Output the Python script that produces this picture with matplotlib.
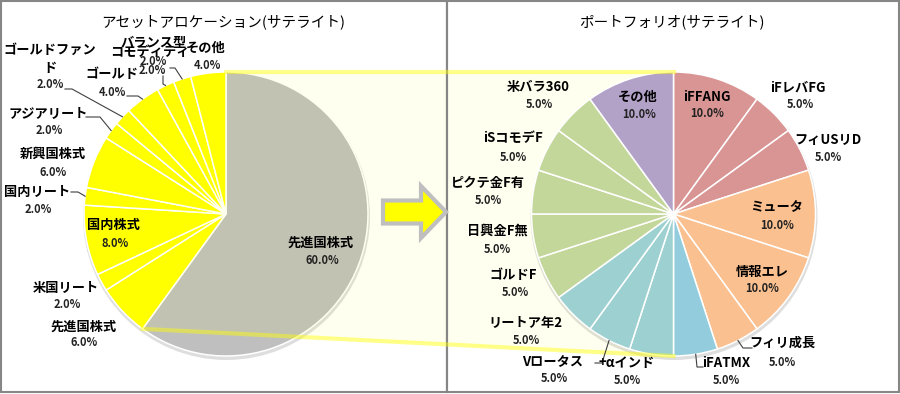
import numpy as np
import matplotlib.pyplot as plt
from matplotlib.patches import Polygon, FancyArrow, Rectangle, Circle

plt.rcParams['font.family'] = ['Noto Sans CJK JP', 'DejaVu Sans']

# 左: アセットアロケーション(サテライト)
alloc_labels = ['先進国株式', '先進国株式', '米国リート', '国内株式', '国内リート', '新興国株式',
                'アジアリート', 'ゴールドファン\nド', 'ゴールド', 'コモディティ', 'バランス型', 'その他']
alloc_values = [60, 6, 2, 8, 2, 6, 2, 2, 4, 2, 2, 4]
alloc_colors = ['#BFBFBF'] + ['#FFFF00'] * 11

# 右: ポートフォリオ(サテライト)
pf_labels = ['iFFANG', 'iFレバFG', 'フィUSリD', 'ミュータ', '情報エレ', 'フィリ成長', 'iFATMX',
             '+αインド', 'Vロータス', 'リートア年2', 'ゴルドF', '日興金F無', 'ピクテ金F有',
             'iSコモデF', '米バラ360', 'その他']
pf_values = [10, 5, 5, 10, 10, 5, 5, 5, 5, 5, 5, 5, 5, 5, 5, 10]
rose, orange, blue, teal, green, purple = '#D99594', '#FAC090', '#93CDDD', '#9DD0D0', '#C4D79B', '#B3A2C7'
pf_colors = [rose] * 3 + [orange] * 3 + [blue] + [teal] * 3 + [green] * 5 + [purple]

# ラベル位置 (名前, パーセント) ピクセル座標
alloc_pos = [((321, 243), (322, 261)), ((84, 327), (84, 343)), ((66, 288), (67, 305)),
             ((113, 225), (115, 243)), ((37, 192), (38, 209)), ((53, 154), (53, 172)),
             ((48, 113), (49, 130)), ((50, 59), (50, 84)), ((112, 74), (112, 92)),
             ((150, 52), (152, 70)), ((154, 43), (153, 61)), ((206, 48), (207, 65))]
alloc_lead = {4: [(78, 192), (71, 192)], 6: [(100, 117), (86, 117)], 7: [(72, 89), (65, 89)],
              8: [(138, 96), (127, 96)], 9: [(163, 84), (163, 76)], 10: [(175, 68), (170, 68)]}

pf_pos = [((707, 97), (707, 113)), ((798, 87), (800, 104)), ((828, 140), (828, 157)),
          ((777, 207), (777, 225)), ((762, 272), (762, 289)), ((782, 343), (782, 362)),
          ((726, 363), (726, 380)), ((627, 363), (627, 381)), ((553, 362), (554, 378)),
          ((525, 323), (526, 341)), ((513, 275), (515, 292)), ((497, 232), (497, 249)),
          ((488, 183), (488, 200)), ((513, 138), (513, 157)), ((538, 87), (539, 104)),
          ((638, 97), (639, 114))]
pf_lead = {5: [(743, 348), (752, 348)], 6: [(697, 367), (703, 367)], 8: [(602, 363), (595, 363)]}

c1, c2, r = (226, 214), (673.5, 214), 142

fig = plt.figure(figsize=(9, 3.94), dpi=100)
ax = fig.add_axes([0, 0, 1, 1])

# 枠
for x0, x1 in [(1, 447), (447, 898.5)]:
    ax.add_patch(Rectangle((x0, 1), x1 - x0, 391, fc='white', ec='#868686', lw=1.5, zorder=0))

# 影
for c in (c1, c2):
    ax.add_patch(Circle((c[0] + 0.5, c[1] + 2.5), r + 1.5, color='black', alpha=0.13, lw=0, zorder=1))


def draw_pie(center, values, colors, labels, pos, lead, z):
    wedges, _ = ax.pie(values, colors=colors, startangle=-90, counterclock=True,
                       center=center, radius=r,
                       wedgeprops=dict(edgecolor='white', linewidth=1.1))
    for w in wedges:
        w.set_zorder(z)
    total = sum(values)
    for i, (w, lab, v) in enumerate(zip(wedges, labels, values)):
        (nx, ny), (px, py) = pos[i]
        ax.text(nx, ny, lab, ha='center', va='center', fontsize=9.5, fontweight='bold',
                linespacing=1.4, zorder=10)
        ax.text(px, py, f'{v / total * 100:.1f}%', ha='center', va='center', fontsize=8,
                fontweight='bold', color='#222222', zorder=10)
        if i in lead:
            a = np.deg2rad((w.theta1 + w.theta2) / 2)
            pts = [(center[0] + r * np.cos(a), center[1] + r * np.sin(a))] + lead[i]
            xs, ys = zip(*pts)
            ax.plot(xs, ys, color='#404040', lw=0.8, zorder=9)
    return wedges


w1 = draw_pie(c1, alloc_values, alloc_colors, alloc_labels, alloc_pos, alloc_lead, 2)

# 拡大範囲
a_end = np.deg2rad(w1[0].theta2)
p_low = (c1[0] + r * np.cos(a_end), c1[1] + r * np.sin(a_end))
zoom = [(c1[0], c1[1] - r), (c2[0], c2[1] - r), (c2[0], c2[1] + r), p_low]
ax.add_patch(Polygon(zoom, closed=True, fc='#FFFF00', alpha=0.06, lw=0, zorder=3))

draw_pie(c2, pf_values, pf_colors, pf_labels, pf_pos, pf_lead, 4)

ax.plot([zoom[0][0], zoom[1][0]], [zoom[0][1], zoom[1][1]], color='#FFFF00', alpha=0.45, lw=3, zorder=6)
ax.plot([zoom[3][0], zoom[2][0]], [zoom[3][1], zoom[2][1]], color='#FFFF00', alpha=0.45, lw=3, zorder=6)
ax.plot([447, 447], [1, 392], color='#868686', lw=1.5, zorder=5)

ax.add_patch(FancyArrow(383, 212, 63, 0, width=23, head_width=52, head_length=25,
                        length_includes_head=True, fc='#FFFF00', ec='#BFBFBF', lw=3, zorder=7))

ax.text(223, 22, 'アセットアロケーション(サテライト)', ha='center', va='center', fontsize=10.5, zorder=10)
ax.text(672, 22, 'ポートフォリオ(サテライト)', ha='center', va='center', fontsize=10.5, zorder=10)

ax.set_xlim(0, 900)
ax.set_ylim(394, 0)
ax.set_aspect('equal')
ax.axis('off')
fig.savefig('out.png', dpi=100)
